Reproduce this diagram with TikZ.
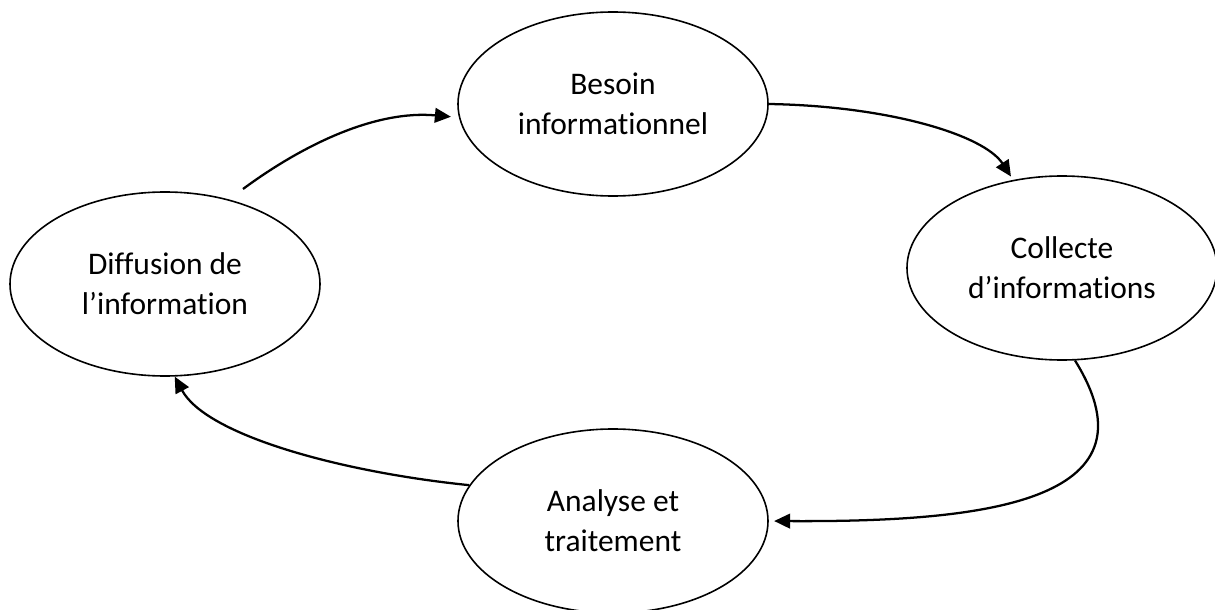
\documentclass[tikz,border=0pt]{standalone}
\usepackage{fontspec}
\setmainfont{Carlito}[Ligatures=NoCommon]
\usetikzlibrary{arrows.meta,%
                shapes,positioning}

\tikzset{
  etape/.style={draw, ellipse, line width=1.2pt, minimum width=232.5pt,
    minimum height=138pt, inner sep=0pt, align=center,
    font=\fontsize{23.6}{30}\selectfont},
  fleche/.style={line width=1.7pt, -{Triangle[length=12pt,width=11pt]}}
}

\begin{document}
\begin{tikzpicture}[x=0.75pt,y=-0.75pt]
\path[use as bounding box, fill=white] (0,0) rectangle (1215,610);
\node[etape] (besoin) at (613,104) {Besoin\\informationnel};
\node[etape] (collecte) at (1062,268) {Collecte\\d’informations};
\node[etape] (analyse) at (613,521) {Analyse et\\traitement};
\node[etape] (diffusion) at (165,284) {Diffusion de\\l’information};
\coordinate (depart) at (243,189);

\draw[fleche,shorten >=6pt] (depart) .. controls (304,144) and (376,110) .. (besoin.185);
\draw[fleche,shorten >=3pt] (besoin.east) .. controls (889,106) and (984,135) .. (collecte.119);
\draw[fleche,shorten >=4pt] (collecte.278) .. controls (1165,505) and (975,522) .. (analyse.east);
\draw[fleche] (analyse.166) .. controls (340,472) and (206,435) .. (diffusion.276);
\end{tikzpicture}
\end{document}
